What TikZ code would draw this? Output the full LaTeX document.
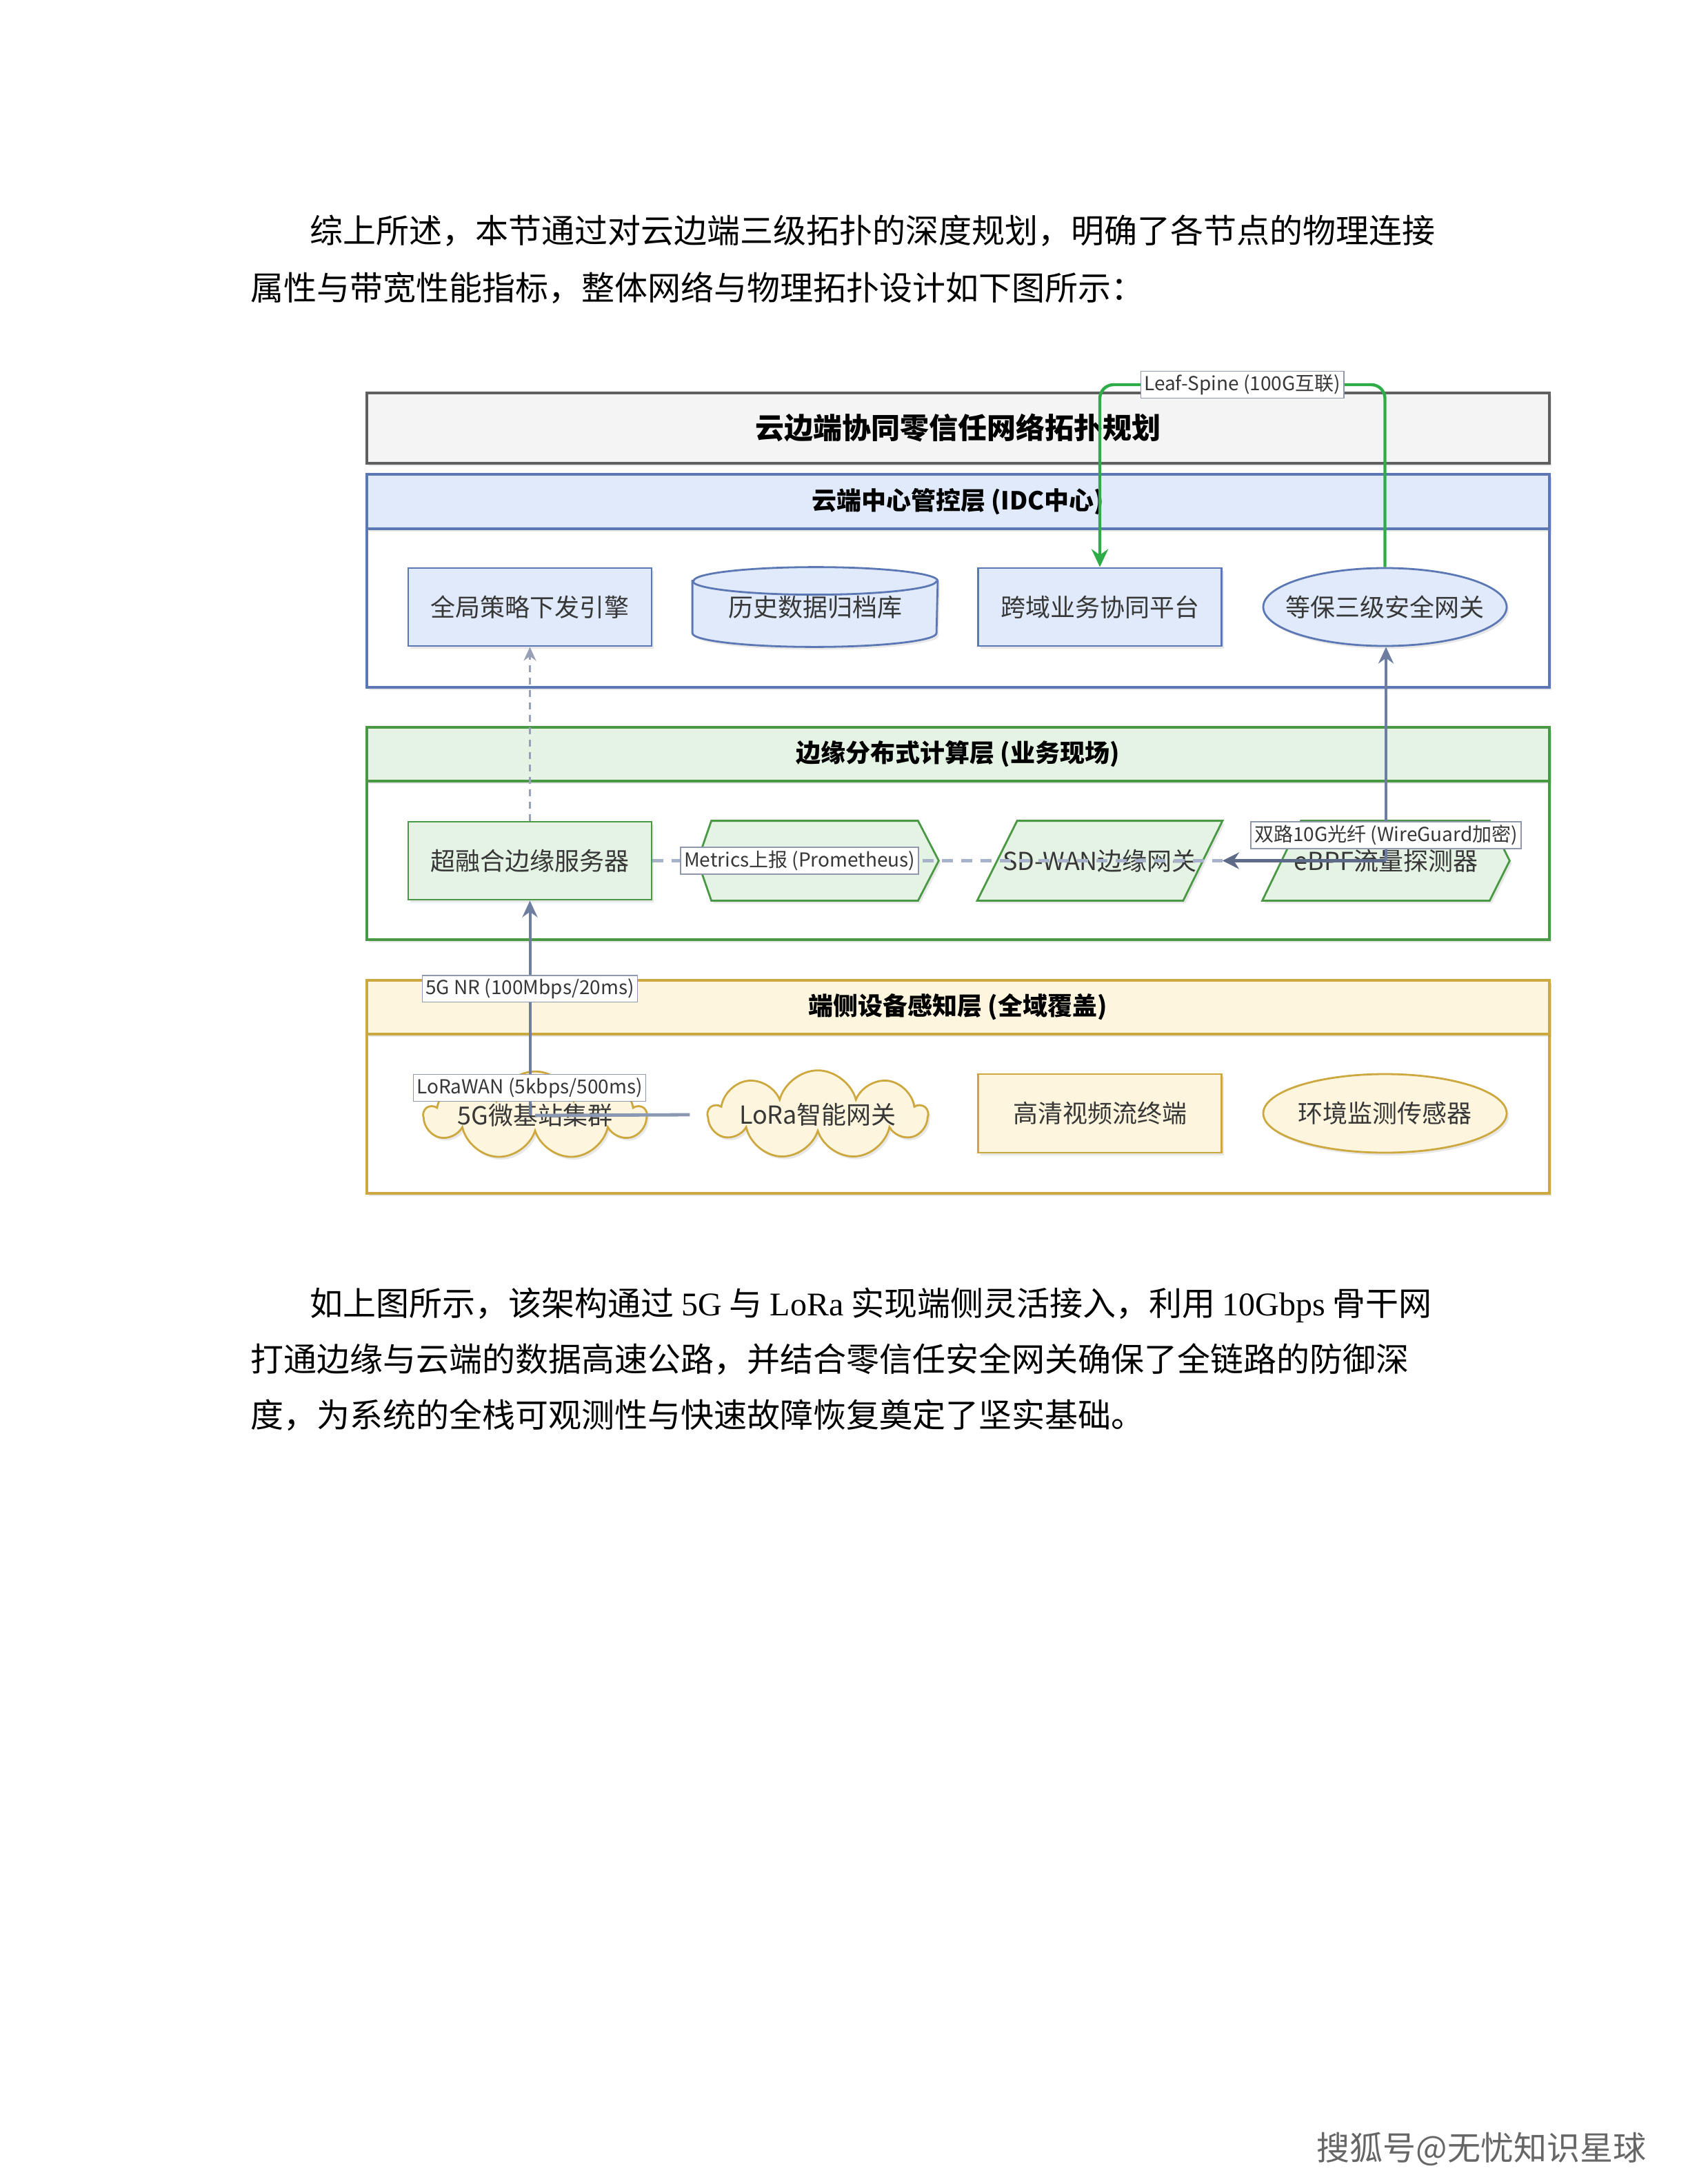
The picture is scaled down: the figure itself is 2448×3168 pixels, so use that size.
\documentclass[tikz,border=0pt]{standalone}
\usepackage{fontspec}
\setmainfont{Noto Sans CJK SC}
\newfontfamily\latinserif{Liberation Serif}
\usepackage{tikz}
\usetikzlibrary{arrows.meta,shapes.geometric,shapes.symbols,positioning,calc,shadows,backgrounds}
\usepackage{xcolor}
\definecolor{titlefill}{RGB}{244,244,244}
\definecolor{titledraw}{RGB}{95,95,95}
\definecolor{cloudfill}{RGB}{224,234,251}
\definecolor{clouddraw}{RGB}{92,120,180}
\definecolor{edgefill}{RGB}{229,243,229}
\definecolor{edgedraw}{RGB}{72,152,68}
\definecolor{devfill}{RGB}{253,245,222}
\definecolor{devdraw}{RGB}{205,168,62}
\definecolor{linkcol}{RGB}{110,126,160}
\definecolor{lightlink}{RGB}{168,178,202}
\definecolor{leafgreen}{RGB}{46,172,72}
\definecolor{nodetext}{RGB}{55,55,55}
\newcommand\fsz[1]{\fontsize{#1}{#1}\selectfont}

\tikzset{
  shd/.style={drop shadow={opacity=0.18,shadow xshift=0.8pt,shadow yshift=-1pt}},
  layerline/.style={line width=0.9pt},
  hdr/.style={font=\bfseries\fsz{9}},
  unit/.style={minimum width=88.25pt,minimum height=28.25pt,inner sep=0pt,
    font=\fsz{9},text=nodetext,line width=0.7pt},
  oval/.style={ellipse,inner xsep=-5pt,inner ysep=0pt},
  lbl/.style={fill=white,draw=lightlink!85!black,line width=0.4pt,solid,sharp corners,
    font=\fsz{7},text=nodetext,inner sep=1.2pt},
  uplink/.style={draw=linkcol,line width=1pt,-{Stealth[length=6pt,width=5.5pt]}},
  dashlink/.style={draw=lightlink!90!black,line width=0.7pt,dash pattern=on 2.5pt off 2pt,
    -{Stealth[length=5pt,width=4.5pt]}},
  metric/.style={draw=lightlink,line width=1.2pt,dash pattern=on 4pt off 3pt},
  darklink/.style={draw=linkcol!85!black,line width=1.3pt,-{Stealth[length=6pt,width=6pt]}},
  loralink/.style={draw=linkcol!80,line width=1.2pt},
  leaf/.style={draw=leafgreen,line width=1.1pt,rounded corners=5pt,
    -{Stealth[length=6.5pt,width=6pt]}},
  para/.style={font=\fsz{12},inner sep=0pt,anchor=west}
}

\begin{document}
\begin{tikzpicture}[x=0.25pt,y=-0.25pt]
  \begin{scope}[on background layer]
    \fill[white](0,0) rectangle (2448,3168);
    % title and the three layers
    \filldraw[fill=titlefill,draw=titledraw,layerline,shd](532,570) rectangle (2247,672);
    \filldraw[fill=white,draw=clouddraw,layerline,shd](532,688) rectangle (2247,997);
    \filldraw[fill=cloudfill,draw=clouddraw,layerline,shd](532,688) rectangle (2247,767);
    \filldraw[fill=white,draw=edgedraw,layerline,shd](532,1055) rectangle (2247,1363);
    \filldraw[fill=edgefill,draw=edgedraw,layerline,shd](532,1055) rectangle (2247,1133);
    \filldraw[fill=white,draw=devdraw,layerline,shd](532,1422) rectangle (2247,1731);
    \filldraw[fill=devfill,draw=devdraw,layerline,shd](532,1422) rectangle (2247,1500);
  \end{scope}
  \useasboundingbox (0,0) rectangle (2448,3168);

  % page text
  \node[para] (p1a) at (449,335){综上所述，本节通过对云边端三级拓扑的深度规划，明确了各节点的物理连接};
  \node[para] (p1b) at (363,418){属性与带宽性能指标，整体网络与物理拓扑设计如下图所示：};
  \node[para] (p2a) at (449,1893){如上图所示，该架构通过 {\latinserif 5G} 与 {\latinserif LoRa} 实现端侧灵活接入，利用 {\latinserif 10Gbps} 骨干网};
  \node[para] (p2b) at (363,1972){打通边缘与云端的数据高速公路，并结合零信任安全网关确保了全链路的防御深};
  \node[para] (p2c) at (363,2053){度，为系统的全栈可观测性与快速故障恢复奠定了坚实基础。};
  \node[font=\fsz{12},text=black!60,anchor=west,inner sep=0pt] (sohu) at (1909,3117){搜狐号@无忧知识星球};

  % headers
  \node[font=\bfseries\fsz{10.5}] (title) at (1389,621){云边端协同零信任网络拓扑规划};
  \node[hdr] (cloudhdr) at (1389,727.5){云端中心管控层 (IDC中心)};
  \node[hdr] (edgehdr) at (1389,1094){边缘分布式计算层 (业务现场)};
  \node[hdr] (devhdr) at (1389,1461){端侧设备感知层 (全域覆盖)};

  % cloud layer
  \node[unit,draw=clouddraw,fill=cloudfill,shd] (policy) at (768.5,880.5){全局策略下发引擎};
  \node[unit] (archive) at (1182,880.5){历史数据归档库};
  \node[unit,draw=clouddraw,fill=cloudfill,shd] (plat) at (1595,880.5){跨域业务协同平台};
  \node[unit,oval,draw=clouddraw,fill=cloudfill,shd] (gw) at (2008.5,880.5){等保三级安全网关};

  % edge layer
  \node[unit,draw=edgedraw,fill=edgefill,shd] (server) at (768.5,1248.5){超融合边缘服务器};
  \node[unit,minimum width=86.75pt] (prom) at (1186.5,1248.5){};
  \node[unit] (sdwan) at (1595,1248.5){SD-WAN边缘网关};
  \node[unit,minimum width=89pt] (ebpf) at (2010,1248.5){eBPF流量探测器};

  % device layer
  \node[unit,cloud,cloud puffs=9,cloud ignores aspect,draw=devdraw,fill=devfill,shd,
    minimum width=80pt,minimum height=24pt] (g5) at (776,1618){5G微基站集群};
  \node[unit,cloud,cloud puffs=9,cloud ignores aspect,draw=devdraw,fill=devfill,shd,
    minimum width=79pt,minimum height=24.5pt] (lora) at (1186,1617){LoRa智能网关};
  \node[unit,draw=devdraw,fill=devfill,shd,minimum height=28.5pt] (video) at (1595,1615){高清视频流终端};
  \node[unit,oval,draw=devdraw,fill=devfill,shd,minimum height=28.5pt] (env) at (2008.5,1615){环境监测传感器};

  \begin{scope}[on background layer]
    % archive drum
    \filldraw[draw=clouddraw,fill=cloudfill,line width=0.7pt,shd]
      ([yshift=-5pt]archive.north west) -- ([yshift=5pt]archive.south west)
      arc[start angle=180,end angle=360,x radius=44.25pt,y radius=5pt]
      -- ([yshift=-5pt]archive.north east)
      arc[start angle=0,end angle=180,x radius=44.25pt,y radius=5pt] -- cycle;
    \draw[draw=clouddraw,line width=0.7pt]([yshift=-5pt]archive.north west)
      arc[start angle=180,end angle=360,x radius=44.25pt,y radius=5pt];
    % edge shapes
    \filldraw[draw=edgedraw,fill=edgefill,line width=0.7pt,shd]
      ([xshift=5pt]prom.north west) -- ([xshift=-7.5pt]prom.north east) -- (prom.east)
      -- ([xshift=-7.5pt]prom.south east) -- ([xshift=5pt]prom.south west) -- (prom.west) -- cycle;
    \filldraw[draw=edgedraw,fill=edgefill,line width=0.7pt,shd]
      ([xshift=14.5pt]sdwan.north west) -- (sdwan.north east)
      -- ([xshift=-14.25pt]sdwan.south east) -- (sdwan.south west) -- cycle;
    \filldraw[draw=edgedraw,fill=edgefill,line width=0.7pt,shd]
      ([xshift=14pt]ebpf.north west) -- ([xshift=-7.25pt]ebpf.north east) -- (ebpf.east)
      -- ([xshift=-7.25pt]ebpf.south east) -- (ebpf.south west) -- cycle;
  \end{scope}

  % links
  \coordinate (leafY) at (0,558);
  \draw[dashlink](server.north) -- (policy.south);
  \draw[metric](server.east) -- node[lbl,pos=0.258]{Metrics上报 (Prometheus)} (sdwan.east);
  \draw[darklink](ebpf.center) -- (sdwan.east);
  \draw[uplink](ebpf.center) -- node[lbl,pos=0.12]{双路10G光纤 (WireGuard加密)} (ebpf.center |- gw.south);
  \draw[uplink](g5.center -| server) -- node[lbl,pos=0.59]{5G NR (100Mbps/20ms)} (server.south);
  \draw[loralink](g5.center) -- node[lbl,pos=0,xshift=-2pt,yshift=10pt]{LoRaWAN (5kbps/500ms)} ([xshift=-6pt]lora.west);
  \draw[leaf](gw.north) -- (gw.north |- leafY) -| node[lbl,pos=0.25]{Leaf-Spine (100G互联)} (plat.north);
\end{tikzpicture}
\end{document}
